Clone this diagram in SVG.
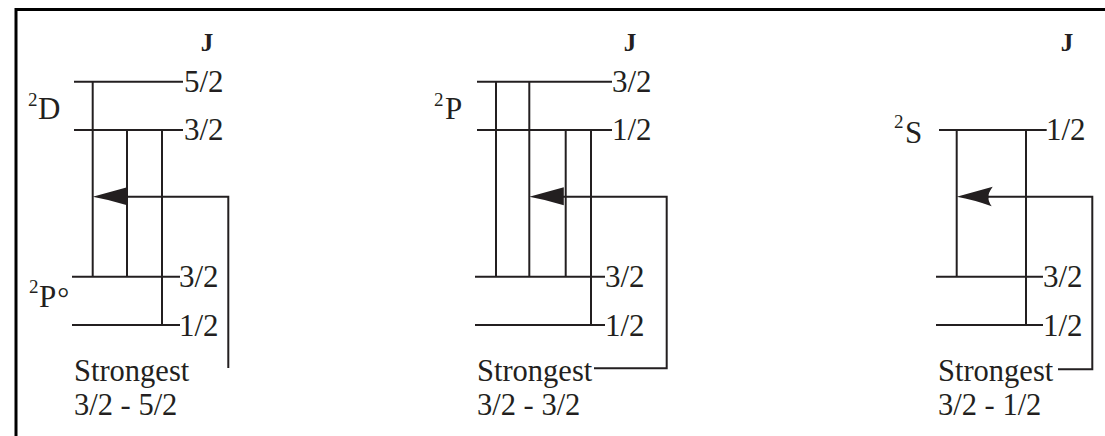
<svg xmlns="http://www.w3.org/2000/svg" width="1105" height="436" viewBox="0 0 1105 436">
  <style>
    .t { font-family: "Liberation Serif", "Times New Roman", serif; fill: #231f20; }
    .lvl { font-size: 31px; }
    .term { font-size: 31px; }
    .sup { font-size: 19px; }
    .j { font-size: 25px; font-weight: bold; text-anchor: middle; }
    .cap { font-size: 30.5px; }
    .ln { stroke: #231f20; stroke-width: 2; fill: none; }
    .frame { stroke: #000; stroke-width: 3; fill: none; }
    .ah { fill: #231f20; stroke: none; }
  </style>
  <defs>
    <path id="headA" d="M0,0 L34.5,-9.5 L34.5,8.5 Q17,3 0,0 Z"/>
    <path id="headB" d="M0,0 L36,-10 Q31,-3 32,0 Q31,4 35,9.5 Q17,3 0,0 Z"/>
  </defs>
  <rect width="1105" height="436" fill="#fff"/>
  <path class="frame" d="M16,436 V9.5 H1105"/>

  <!-- Panel 1: 2D - 2P° -->
  <g id="panel-d">
    <text class="t j" x="207" y="51">J</text>
    <line class="ln" x1="74" y1="81.7" x2="183" y2="81.7"/>
    <line class="ln" x1="74" y1="130" x2="183" y2="130"/>
    <line class="ln" x1="72" y1="276.7" x2="180" y2="276.7"/>
    <line class="ln" x1="72" y1="325" x2="180" y2="325"/>
    <text class="t lvl" x="184" y="92">5/2</text>
    <text class="t lvl" x="184" y="140">3/2</text>
    <text class="t lvl" x="179" y="287">3/2</text>
    <text class="t lvl" x="179" y="335.5">1/2</text>
    <text class="t sup" x="28" y="106">2</text>
    <text class="t term" x="38" y="118.5">D</text>
    <text class="t sup" x="29" y="293">2</text>
    <text class="t term" x="39" y="307">P<tspan dx="1" dy="1" font-size="30">°</tspan></text>
    <line class="ln" x1="92.7" y1="81.7" x2="92.7" y2="276.7"/>
    <line class="ln" x1="127" y1="130" x2="127" y2="276.7"/>
    <line class="ln" x1="162" y1="130" x2="162" y2="325"/>
    <text class="t cap" x="74" y="381">Strongest</text>
    <text class="t cap" x="74" y="415">3/2 - 5/2</text>
  </g>

  <!-- Panel 2: 2P - 2P° -->
  <g id="panel-p">
    <text class="t j" x="630" y="51">J</text>
    <line class="ln" x1="477" y1="81.7" x2="612" y2="81.7"/>
    <line class="ln" x1="477" y1="130" x2="612" y2="130"/>
    <line class="ln" x1="475" y1="276.7" x2="605" y2="276.7"/>
    <line class="ln" x1="475" y1="325" x2="605" y2="325"/>
    <text class="t lvl" x="612" y="92">3/2</text>
    <text class="t lvl" x="612" y="140">1/2</text>
    <text class="t lvl" x="605" y="287">3/2</text>
    <text class="t lvl" x="605" y="335.5">1/2</text>
    <text class="t sup" x="434" y="106">2</text>
    <text class="t term" x="445" y="118.5">P</text>
    <line class="ln" x1="496" y1="81.7" x2="496" y2="276.7"/>
    <line class="ln" x1="529.3" y1="81.7" x2="529.3" y2="276.7"/>
    <line class="ln" x1="565.7" y1="130" x2="565.7" y2="276.7"/>
    <line class="ln" x1="591" y1="130" x2="591" y2="325"/>
    <text class="t cap" x="477" y="381">Strongest</text>
    <text class="t cap" x="477" y="415">3/2 - 3/2</text>
  </g>

  <!-- Panel 3: 2S - 2P° -->
  <g id="panel-s">
    <text class="t j" x="1067" y="51">J</text>
    <line class="ln" x1="939" y1="130" x2="1046.7" y2="130"/>
    <line class="ln" x1="936" y1="276.7" x2="1043" y2="276.7"/>
    <line class="ln" x1="936" y1="325" x2="1043" y2="325"/>
    <text class="t lvl" x="1046" y="140">1/2</text>
    <text class="t lvl" x="1043" y="287">3/2</text>
    <text class="t lvl" x="1043" y="335.5">1/2</text>
    <text class="t sup" x="894" y="128">2</text>
    <text class="t term" x="905" y="143">S</text>
    <line class="ln" x1="956.7" y1="130" x2="956.7" y2="276.7"/>
    <line class="ln" x1="1026" y1="130" x2="1026" y2="325"/>
    <text class="t cap" x="938" y="381">Strongest</text>
    <text class="t cap" x="938" y="415">3/2 - 1/2</text>
  </g>

  <!-- Connectors: strongest-transition arrows -->
  <g id="connectors">
    <path class="ln" d="M110,196.7 H228.3 V368"/>
    <use href="#headA" class="ah" x="92.7" y="196.7"/>
    <path class="ln" d="M545,196.7 H666.7 V368.3 H594"/>
    <use href="#headA" class="ah" x="529.3" y="196.7"/>
    <path class="ln" d="M975,196.7 H1092.3 V369.3 H1058"/>
    <use href="#headB" class="ah" x="956.7" y="196.7"/>
  </g>
</svg>
